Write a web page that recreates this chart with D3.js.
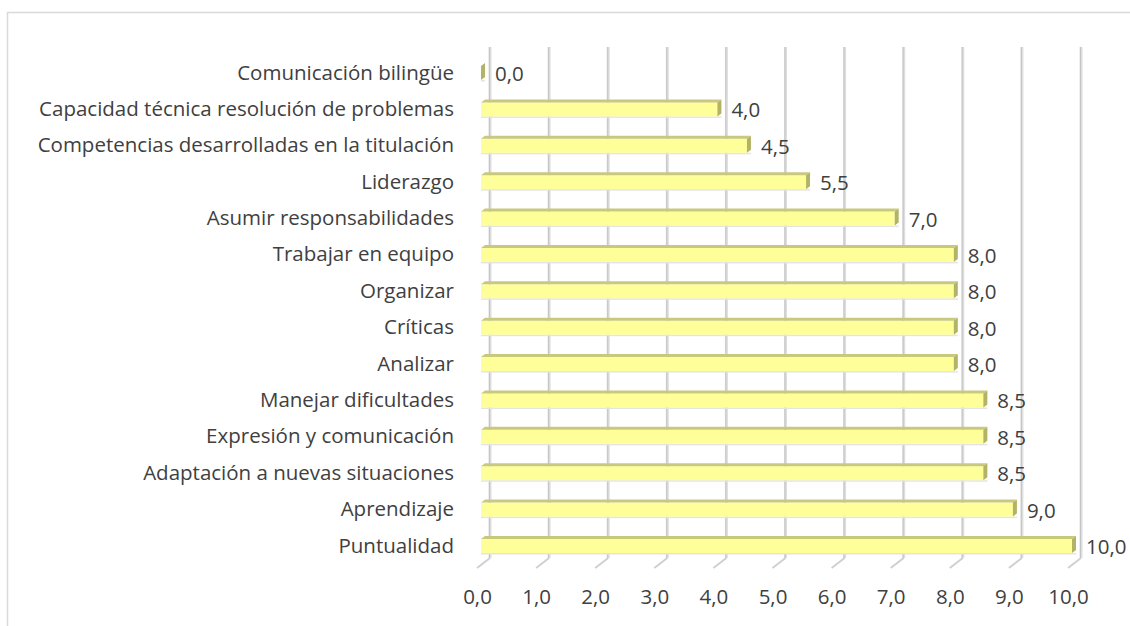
<!DOCTYPE html>
<html>
<head>
<meta charset="utf-8">
<script src="https://cdn.jsdelivr.net/npm/d3@7"></script>
<style>
  body { margin: 0; background: #fff; }
  svg { display: block; font-family: "Open Sans", sans-serif; }
</style>
</head>
<body>
<svg id="chart"></svg>
<script>
const categories = [
  "Comunicación bilingüe",
  "Capacidad técnica resolución de problemas",
  "Competencias desarrolladas en la titulación",
  "Liderazgo",
  "Asumir responsabilidades",
  "Trabajar en equipo",
  "Organizar",
  "Críticas",
  "Analizar",
  "Manejar dificultades",
  "Expresión y comunicación",
  "Adaptación a nuevas situaciones",
  "Aprendizaje",
  "Puntualidad"
];
const values = [0, 4, 4.5, 5.5, 7, 8, 8, 8, 8, 8.5, 8.5, 8.5, 9, 10];
const ticks = [0, 1, 2, 3, 4, 5, 6, 7, 8, 9, 10];

const W = 1130, H = 626;
const fontSize = 20.5;
const fmt = v => v.toFixed(1).replace(".", ",");

const svg = d3.select("#chart").attr("width", W).attr("height", H);

// chart frame (runs off the right and bottom edge)
svg.append("path")
  .attr("d", `M7.5,${H + 5} V12.5 H${W + 5}`)
  .attr("fill", "none")
  .attr("stroke", "#d9d9d9")
  .attr("stroke-width", 1.5);

// back wall scale, bars sit a bit in front of it
const x = d3.scaleLinear().domain([0, 10]).range([490, 1081]);
const y = d3.scaleBand().domain(categories).range([53.8, 563.2]);
const front = -9;            // front face offset from back wall
const dx = 4, dy = 3;        // bar depth
const barH = 14;
const wallTop = 47, wallBottom = 558;

// gridlines on the back wall
const grid = svg.append("g");
ticks.forEach(t => {
  grid.append("rect")
    .attr("x", x(t) - 1.5).attr("y", wallTop)
    .attr("width", 3).attr("height", wallBottom - wallTop)
    .attr("fill", "#dedede");
  grid.append("line")
    .attr("x1", x(t) - 0.5).attr("x2", x(t) - 0.5)
    .attr("y1", wallTop).attr("y2", wallBottom)
    .attr("stroke", "#c4c4c4");
  // floor line
  grid.append("line")
    .attr("x1", x(t)).attr("y1", wallBottom)
    .attr("x2", x(t) - 13).attr("y2", wallBottom + 10)
    .attr("stroke", "#d0d0d0").attr("stroke-width", 2);
});

// bars
const bars = svg.append("g").selectAll("g")
  .data(categories.map((c, i) => ({ c, v: values[i] })))
  .join("g");

bars.each(function(d) {
  const g = d3.select(this);
  const x0 = x(0) + front, x1 = x(d.v) + front;
  const yc = y(d.c) + y.bandwidth() / 2;
  const yt = yc - barH / 2 + 1;
  // shadow line under the bar
  g.append("rect")
    .attr("x", x0).attr("y", yt + barH)
    .attr("width", x1 - x0 + dx).attr("height", 1.5)
    .attr("fill", "#e4e4e4");
  g.append("rect")
    .attr("x", x0).attr("y", yt)
    .attr("width", x1 - x0).attr("height", barH)
    .attr("fill", "#ffff99");
  // top face
  g.append("path")
    .attr("d", `M${x0},${yt} L${x0 + dx},${yt - dy} L${x1 + dx},${yt - dy} L${x1},${yt} Z`)
    .attr("fill", "#c9c97e");
  // end face
  g.append("path")
    .attr("d", `M${x1},${yt} L${x1 + dx},${yt - dy} L${x1 + dx},${yt + barH - dy} L${x1},${yt + barH} Z`)
    .attr("fill", "#b3b366");
  // value label
  g.append("text")
    .attr("x", x1 + 14).attr("y", yc + 1)
    .attr("dominant-baseline", "central")
    .attr("font-size", fontSize)
    .attr("fill", "#404040")
    .text(fmt(d.v));
});

// category labels
const yAxis = svg.append("g")
  .attr("transform", "translate(454,1)")
  .call(d3.axisLeft(y).tickSize(0).tickPadding(0));
yAxis.select(".domain").remove();
yAxis.selectAll("text")
  .attr("font-size", fontSize)
  .attr("font-family", "Open Sans, sans-serif")
  .attr("fill", "#404040");

// x tick labels
const xAxis = svg.append("g")
  .attr("transform", "translate(-13,589)")
  .call(d3.axisBottom(x).tickValues(ticks).tickFormat(fmt).tickSize(0).tickPadding(0));
xAxis.select(".domain").remove();
xAxis.selectAll("text")
  .attr("font-size", fontSize)
  .attr("font-family", "Open Sans, sans-serif")
  .attr("fill", "#404040");
</script>
</body>
</html>
